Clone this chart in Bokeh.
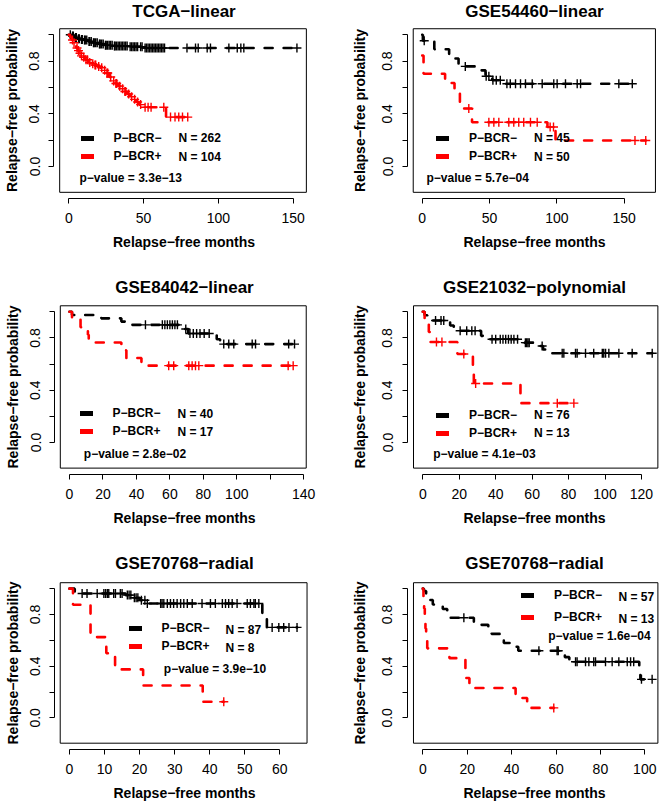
import numpy as np
from bokeh.plotting import figure
from bokeh.layouts import column, row
from bokeh.models import (Range1d, FixedTicker, PrintfTickFormatter,
                          Legend, LegendItem, Label)
from bokeh.embed import file_html
from bokeh.resources import INLINE

# ------------------------------------------------------------------ data
# step points (time, survival) for each group, last follow-up time, censor times
tcga_neg_t = [0, 2, 4, 6, 8, 10, 13, 16, 20, 24, 30, 40, 50]
tcga_neg_s = [1.0, 0.99, 0.98, 0.97, 0.965, 0.96, 0.95, 0.94, 0.93, 0.92, 0.915, 0.91, 0.90]
tcga_neg_end = 152.5
tcga_neg_cens = [1, 2.5, 3, 4.5, 5, 6.5, 7, 8.5, 9, 10.5, 11, 12, 13.5, 14, 15, 16.5, 17, 18, 19,
                 20.5, 21, 22, 23, 24.5, 25, 26, 27, 28, 29, 30.5, 31, 32, 33, 34, 35, 36, 37, 38,
                 39, 41, 42, 43, 44, 45, 46, 48, 49, 51, 52, 53, 54, 55, 56, 57, 58, 59, 60, 61,
                 62, 63, 64, 79, 84.7, 86.5, 92.5, 94.7, 107, 112.6, 115, 117, 152.5]
tcga_pos_t = [0, 1, 2, 3, 4, 5, 6, 7, 8, 9, 11, 13, 15, 17, 19, 21, 23, 25, 27, 29, 31, 33, 35,
              37, 39, 41, 43, 45, 47, 50, 65]
tcga_pos_s = [1.0, 0.98, 0.96, 0.94, 0.92, 0.90, 0.88, 0.86, 0.84, 0.83, 0.81, 0.79, 0.78, 0.77,
              0.76, 0.75, 0.73, 0.71, 0.68, 0.65, 0.63, 0.61, 0.59, 0.57, 0.55, 0.53, 0.51, 0.49,
              0.47, 0.45, 0.375]
tcga_pos_end = 79.5
tcga_pos_cens = [2.5, 3.5, 5.5, 6.5, 7.5, 8.5, 10, 11.5, 12.5, 14, 16, 17.5, 18, 20, 22, 24, 25.5,
                 26, 28, 30, 31.5, 32, 34, 36, 37.5, 38, 40, 42, 44, 46, 48, 51, 53, 55, 63.5, 68,
                 71, 73.5, 76, 79.5]

g54460_neg_t = [0, 0.5, 9, 20, 27, 42, 47, 52, 60]
g54460_neg_s = [1.0, 0.955, 0.89, 0.82, 0.76, 0.73, 0.685, 0.655, 0.628]
g54460_neg_end = 156
g54460_neg_cens = [1.5, 32, 47.5, 49.5, 52.5, 55, 58, 62.9, 65.4, 69.3, 73, 76.7, 81.7, 89.1, 97.7,
                   100.2, 106.4, 115.1, 117.6, 146, 156]
g54460_pos_t = [0, 1, 17, 24, 28, 37, 93, 99]
g54460_pos_s = [0.843, 0.704, 0.634, 0.563, 0.44, 0.336, 0.30, 0.197]
g54460_pos_end = 166
g54460_pos_cens = [34.6, 49.5, 53.2, 56.9, 64.3, 68, 71.7, 75.4, 80.4, 85.4, 95, 97.5, 158, 166]

g84042_neg_t = [0, 1.5, 19, 31, 33, 67, 71, 88, 90]
g84042_neg_s = [1.0, 0.975, 0.95, 0.925, 0.90, 0.868, 0.834, 0.79, 0.753]
g84042_neg_end = 134.5
g84042_neg_cens = [45.4, 55.5, 57, 58.5, 60, 61.5, 63, 64.5, 69.5, 72, 74, 76, 78, 80.5, 83.5,
                   92.2, 95.2, 98.2, 109.2, 111.2, 131, 134.5]
g84042_pos_t = [0, 1.5, 6.6, 11, 11.5, 31, 34, 43]
g84042_pos_s = [1.0, 0.941, 0.882, 0.824, 0.765, 0.706, 0.647, 0.588]
g84042_pos_end = 133.7
g84042_pos_cens = [59.3, 62.3, 71.3, 73.3, 75.3, 77.3, 130.7, 133.7]

g21032_neg_t = [0, 1, 2.5, 15, 17, 32, 34, 55, 63, 66, 70]
g21032_neg_s = [1.0, 0.974, 0.934, 0.895, 0.855, 0.816, 0.79, 0.764, 0.738, 0.712, 0.683]
g21032_neg_end = 125.9
g21032_neg_cens = [7, 10, 11.5, 20.5, 24.1, 26.9, 28.7, 38, 40, 42.5, 44, 45.5, 47, 48.5, 50, 52,
                   56.3, 57, 57.7, 58.4, 65.5, 76.5, 77.4, 83.8, 84.7, 89.3, 93.8, 98.5, 99.3,
                   100.3, 102.1, 107.6, 114.9, 125.9]
g21032_pos_t = [0, 1, 3.3, 4, 19, 27.5, 28, 53.6]
g21032_pos_s = [1.0, 0.923, 0.846, 0.769, 0.677, 0.564, 0.451, 0.301]
g21032_pos_end = 82.9
g21032_pos_cens = [7.5, 10.5, 22.5, 29, 73.8, 82.9]

g70768a_neg_t = [0, 1.5, 3, 16, 18, 20, 22, 55, 56.3]
g70768a_neg_s = [1.0, 0.977, 0.962, 0.95, 0.93, 0.91, 0.885, 0.797, 0.70]
g70768a_neg_end = 64.9
g70768a_neg_cens = [3.6, 5, 7.9, 9.8, 10.3, 10.8, 11.2, 12.6, 13.1, 14.5, 15, 16.5, 17, 17.5, 18.5,
                    19, 19.5, 20.5, 21.5, 22.2, 26, 26.4, 26.9, 27.9, 28.8, 29.7, 30.7, 31.7, 32.6,
                    33.6, 35, 37.8, 40.2, 41.6, 43.6, 44.5, 45.4, 46.4, 47.8, 50.7, 51.6, 52.6, 53,
                    54, 57.8, 59.7, 61.1, 62.6, 64.9]
g70768a_pos_t = [0, 1, 6, 10.5, 13, 21, 38]
g70768a_pos_s = [1.0, 0.875, 0.625, 0.5, 0.375, 0.25, 0.125]
g70768a_pos_end = 44
g70768a_pos_cens = [44]

g70768b_neg_t = [0, 0.5, 1.5, 3, 4.5, 9, 11, 12, 23, 25.5, 29.5, 31, 36, 36.5, 41.5, 43, 64, 66,
                 97.5, 98]
g70768b_neg_s = [1.0, 0.982, 0.947, 0.912, 0.877, 0.842, 0.807, 0.775, 0.74, 0.72, 0.685, 0.65,
                 0.615, 0.58, 0.55, 0.52, 0.47, 0.434, 0.36, 0.298]
g70768b_neg_end = 103.3
g70768b_neg_cens = [18.5, 52.3, 60.5, 61, 68.8, 69.5, 73.3, 74.8, 77, 77.8, 82.3, 85.3, 88.3, 92.1,
                    93.6, 95, 98.5, 103.3]
g70768b_pos_t = [0, 0.3, 0.6, 0.9, 1.2, 1.5, 2, 12, 19.2, 19.5, 21, 41.8, 47]
g70768b_pos_s = [1.0, 0.923, 0.846, 0.769, 0.692, 0.615, 0.538, 0.462, 0.385, 0.308, 0.231,
                 0.154, 0.077]
g70768b_pos_end = 59
g70768b_pos_cens = [59]

titles = ["TCGA−linear", "GSE54460−linear", "GSE84042−linear", "GSE21032−polynomial",
          "GSE70768−radial", "GSE70768−radial"]
n_neg = [262, 45, 40, 76, 87, 57]
n_pos = [104, 50, 17, 13, 8, 13]
p_values = ["3.3e−13", "5.7e−04", "2.8e−02", "4.1e−03", "3.9e−10", "1.6e−04"]
group_labels = ["P−BCR−", "P−BCR+"]

# ------------------------------------------------------------------ layout (reference pixels)
FONT = "Liberation Sans"
COLS = [(0, 340), (340, 321)]
ROWS = [(0, 268), (268, 268), (536, 267)]
YLIM = (-0.196, 1.046)
AXOFF = 6.0
# y tick-label / y axis-title standoffs per column (left column has less room)
Y_STANDOFF = [(9, 7), (10, 12)]
XTITLE_CX = [183.7, 536.8]          # centre of "Relapse-free months" per column
YTITLE_CY = [110.0, 386.3, 663.5]   # centre of "Relapse-free probability" per row
TITLE_STANDOFF = [0, 2, 4]

panels = [
    dict(col=0, row=0, xmap=(68.3, 1.496), ymap=(166.0, 131.7), xlim=(-6.1, 158.8),
         xticks=[0, 50, 100, 150], xminor=[], lab=113, nx=178, rows=(137.8, 156.0), px=79, py=177.7),
    dict(col=1, row=0, xmap=(421.7, 1.3467), ymap=(166.0, 131.7), xlim=(-6.66, 173.2),
         xticks=[0, 50, 100, 150], xminor=[], lab=468.5, nx=533.5, rows=(137.8, 156.0), px=426, py=177.7),
    dict(col=0, row=1, xmap=(69.0, 1.673), ymap=(442.0, 130.7), xlim=(-5.5, 141.5),
         xticks=[0, 20, 40, 60, 80, 100, 140], xminor=[120], lab=112, nx=177, rows=(413.7, 431.3), px=83.3, py=453.7),
    dict(col=1, row=1, xmap=(422.3, 1.8222), ymap=(442.0, 130.7), xlim=(-5.1, 129.0),
         xticks=[0, 20, 40, 60, 80, 100, 120], xminor=[], lab=468.5, nx=533.5, rows=(414.8, 432.8), px=432.7, py=453.7),
    dict(col=0, row=2, xmap=(69.0, 3.506), ymap=(719.0, 130.7), xlim=(-2.65, 67.75),
         xticks=[0, 10, 20, 30, 40, 50, 60], xminor=[], lab=161, nx=225, rows=(630.0, 648.3), px=163.3, py=669.7),
    dict(col=1, row=2, xmap=(422.3, 2.22), ymap=(719.0, 130.7), xlim=(-4.2, 105.9),
         xticks=[0, 20, 40, 60, 80, 100], xminor=[], lab=553.5, nx=618, rows=(597.0, 619.0), px=547.7, py=636.3),
]

series = [
    ((tcga_neg_t, tcga_neg_s, tcga_neg_cens, tcga_neg_end), (tcga_pos_t, tcga_pos_s, tcga_pos_cens, tcga_pos_end)),
    ((g54460_neg_t, g54460_neg_s, g54460_neg_cens, g54460_neg_end), (g54460_pos_t, g54460_pos_s, g54460_pos_cens, g54460_pos_end)),
    ((g84042_neg_t, g84042_neg_s, g84042_neg_cens, g84042_neg_end), (g84042_pos_t, g84042_pos_s, g84042_pos_cens, g84042_pos_end)),
    ((g21032_neg_t, g21032_neg_s, g21032_neg_cens, g21032_neg_end), (g21032_pos_t, g21032_pos_s, g21032_pos_cens, g21032_pos_end)),
    ((g70768a_neg_t, g70768a_neg_s, g70768a_neg_cens, g70768a_neg_end), (g70768a_pos_t, g70768a_pos_s, g70768a_pos_cens, g70768a_pos_end)),
    ((g70768b_neg_t, g70768b_neg_s, g70768b_neg_cens, g70768b_neg_end), (g70768b_pos_t, g70768b_pos_s, g70768b_pos_cens, g70768b_pos_end)),
]


def cens_y(t, s, c):
    idx = np.searchsorted(np.asarray(t, float), np.asarray(c, float), side="right") - 1
    return [float(v) for v in np.asarray(s, float)[idx]]


def make_panel(i):
    cfg = panels[i]
    colx, W = COLS[cfg["col"]]
    rowy, H = ROWS[cfg["row"]]
    x0, pxu = cfg["xmap"]
    y0, pyu = cfg["ymap"]
    xlo, xhi = cfg["xlim"]
    ylo, yhi = YLIM
    rx = lambda t: x0 + t * pxu
    ry = lambda s: y0 - s * pyu
    dx = lambda r: (r - x0) / pxu
    dy = lambda r: (y0 - r) / pyu
    bl, bb = rx(xlo), ry(ylo)
    fl = int(round(bl - AXOFF - colx))   # frame left = detached y-axis line
    fb = int(round(bb + AXOFF - rowy))   # frame bottom = detached x-axis line
    # frame right / top chosen so that the axis titles are centred like the reference
    fr = min(W, int(round(2 * XTITLE_CX[cfg["col"]] - (bl - AXOFF))) - colx)
    ft = max(0, int(round(2 * YTITLE_CY[cfg["row"]] - (bb + AXOFF))) - rowy)
    tx = lambda l: dx(colx + l)
    ty = lambda l: dy(rowy + l)

    p = figure(width=W, height=H, x_range=Range1d(tx(fl), tx(fr)), y_range=Range1d(ty(fb), ty(ft)),
               min_border_left=fl, min_border_right=W - fr, min_border_top=ft,
               min_border_bottom=H - fb, toolbar_location=None, output_backend="svg",
               outline_line_color=None, title=titles[i])
    p.grid.visible = False
    p.title.text_font = FONT
    p.title.text_font_size = "17px"
    p.title.text_font_style = "bold"
    p.title.text_color = "black"
    p.title.align = "center"
    p.title.vertical_align = "top"
    p.title.standoff = TITLE_STANDOFF[cfg["row"]]

    xa, ya = p.xaxis[0], p.yaxis[0]
    xa.ticker = FixedTicker(ticks=cfg["xticks"], minor_ticks=cfg["xminor"])
    xa.bounds = (0, max(cfg["xticks"] + cfg["xminor"]))
    ya.ticker = FixedTicker(ticks=[0, 0.4, 0.8], minor_ticks=[0.2, 0.6, 1.0])
    ya.bounds = (0, 1)
    ya.formatter = PrintfTickFormatter(format="%.1f")
    for ax in (xa, ya):
        ax.axis_line_color = "black"
        ax.axis_line_width = 1
        ax.major_tick_line_color = "black"
        ax.minor_tick_line_color = "black"
        ax.major_tick_out = 5
        ax.major_tick_in = 0
        ax.minor_tick_out = 5
        ax.minor_tick_in = 0
        ax.major_label_text_font = FONT
        ax.major_label_text_font_size = "14px"
        ax.major_label_text_color = "black"
        ax.axis_label_text_font = FONT
        ax.axis_label_text_font_size = "14px"
        ax.axis_label_text_font_style = "bold"
        ax.axis_label_text_color = "black"
    xa.axis_label = "Relapse−free months"
    ya.axis_label = "Relapse−free probability"
    ya.major_label_orientation = "vertical"
    xa.major_label_standoff = 9
    xa.axis_label_standoff = 8
    ya.major_label_standoff, ya.axis_label_standoff = Y_STANDOFF[cfg["col"]]

    # plot box (R's box around the plotting region)
    p.line(x=[xlo, xhi, xhi, xlo, xlo], y=[ylo, ylo, yhi, yhi, ylo], line_color="black",
           line_width=1)

    for (t, s, cens, end), color in zip(series[i], ("black", "red")):
        p.step(list(t) + [end], list(s) + [s[-1]], mode="after", line_color=color,
               line_width=2.6, line_dash="8 11", line_cap="round")
        p.scatter(cens, cens_y(t, s, cens), marker="cross", size=9, line_color=color,
                  line_width=1.4)

    # legend (key glyphs come from two invisible one-point renderers)
    d_neg = p.line(x=[np.nan], y=[np.nan], line_color="black", line_width=5, line_cap="round")
    d_pos = p.line(x=[np.nan], y=[np.nan], line_color="red", line_width=5, line_cap="round")
    g_left = cfg["lab"] - 35 + 2.5
    gw = 13
    item_h = 16
    gap = cfg["rows"][1] - cfg["rows"][0]
    leg = Legend(items=[LegendItem(label=group_labels[0], renderers=[d_neg]),
                        LegendItem(label=group_labels[1], renderers=[d_pos])],
                 location=(g_left - colx - fl, fb - (cfg["rows"][1] - rowy + item_h / 2)),
                 glyph_width=gw, glyph_height=item_h, label_height=item_h,
                 spacing=int(round(gap - item_h)), padding=0, margin=0,
                 label_standoff=int(round(cfg["lab"] - g_left - gw)),
                 label_text_font=FONT, label_text_font_size="12px", label_text_color="black",
                 label_text_font_style="bold", border_line_alpha=0, background_fill_alpha=0)
    p.add_layout(leg, "center")

    texts = [(f"N = {n_neg[i]}", cfg["nx"], cfg["rows"][0]),
             (f"N = {n_pos[i]}", cfg["nx"], cfg["rows"][1]),
             ("p−value = " + p_values[i], cfg["px"], cfg["py"])]
    for txt, xr, yr in texts:
        p.add_layout(Label(x=dx(xr), y=dy(yr), text=txt, text_font=FONT, text_font_size="12px",
                           text_font_style="bold", text_baseline="middle", text_align="left",
                           text_color="black"))
    return p


figs = [make_panel(i) for i in range(6)]
layout = column(row(figs[0], figs[1]), row(figs[2], figs[3]), row(figs[4], figs[5]))
open("out.html", "w").write(file_html(layout, INLINE))
